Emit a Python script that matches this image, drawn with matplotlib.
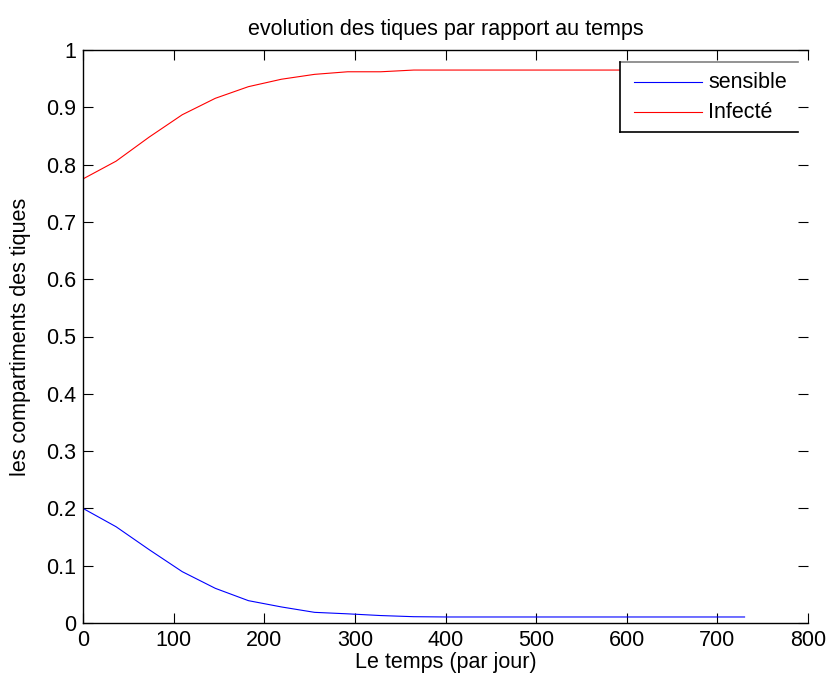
import matplotlib
matplotlib.use("Agg")
import matplotlib.pyplot as plt
from matplotlib.lines import Line2D
from matplotlib.patches import Rectangle

plt.rcParams['font.family'] = ['Liberation Sans', 'DejaVu Sans']

# Data (time in days)
t = [0, 36.5, 73, 109.5, 146, 182.5, 219, 255.5, 292, 328.5, 365, 401.5,
     438, 474.5, 511, 547.5, 584, 620.5, 657, 693.5, 730]
sensible = [0.200, 0.168, 0.128, 0.0896, 0.0605, 0.039, 0.028, 0.0186, 0.016,
            0.013, 0.011, 0.0105, 0.0105, 0.0105, 0.0105, 0.0105, 0.0105,
            0.0105, 0.0105, 0.0105, 0.0105]
infecte = [0.775, 0.806, 0.848, 0.887, 0.9157, 0.936, 0.949, 0.9575, 0.962,
           0.962, 0.965, 0.965, 0.965, 0.965, 0.965, 0.965, 0.965, 0.965,
           0.965, 0.965, 0.965]
xticks = [0, 100, 200, 300, 400, 500, 600, 700, 800]
yticks = [0, 0.1, 0.2, 0.3, 0.4, 0.5, 0.6, 0.7, 0.8, 0.9, 1]
ytick_labels = ['0', '0.1', '0.2', '0.3', '0.4', '0.5', '0.6', '0.7', '0.8', '0.9', '1']

W, H = 832, 684
fig = plt.figure(figsize=(W / 100, H / 100), dpi=100)
ax = fig.add_axes([83 / W, 1 - 623 / H, (808 - 83) / W, (623 - 50) / H])

ax.plot(t, sensible, color='blue', lw=0.8)
ax.plot(t, infecte, color='red', lw=0.8)

ax.set_xlim(0, 800)
ax.set_ylim(0, 1)
ax.set_xticks(xticks)
ax.set_yticks(yticks)
ax.set_yticklabels(ytick_labels)
fs = 15.5
ax.tick_params(direction='in', length=7, width=0.8, top=True, right=True,
               labelsize=fs, pad=5, color='black')
ax.spines['right'].set_visible(False)
for s in ['left', 'bottom', 'top']:
    ax.spines[s].set_linewidth(1.0)

ax.set_title('evolution des tiques par rapport au temps', fontsize=fs, pad=11)
ax.set_xlabel('Le temps (par jour)', fontsize=fs, labelpad=1)
ax.set_ylabel('les compartiments des tiques', fontsize=fs, labelpad=11)

# Legend box (right edge clipped off in the reference)
lx0, lx1, ly0, ly1 = 620, 798, 62, 132
fx = lambda px: px / W
fy = lambda py: 1 - py / H
fig.add_artist(Rectangle((fx(lx0), fy(ly1)), fx(lx1) - fx(lx0), fy(ly0) - fy(ly1),
                         transform=fig.transFigure, facecolor='white',
                         edgecolor='none', zorder=3))
fig.add_artist(Line2D([fx(lx0), fx(lx1)], [fy(ly0), fy(ly0)], transform=fig.transFigure,
                      color='#808080', lw=1.2, zorder=4))
fig.add_artist(Line2D([fx(lx0), fx(lx0)], [fy(ly0), fy(ly1)], transform=fig.transFigure,
                      color='black', lw=1.2, zorder=4))
fig.add_artist(Line2D([fx(lx0), fx(lx1)], [fy(ly1), fy(ly1)], transform=fig.transFigure,
                      color='black', lw=1.2, zorder=4))
labels = ['sensible', 'Infecté']
colors = ['blue', 'red']
rows = [82, 112]
for lab, c, r in zip(labels, colors, rows):
    fig.add_artist(Line2D([fx(634), fx(702)], [fy(r), fy(r)], transform=fig.transFigure,
                          color=c, lw=0.8, zorder=5))
    fig.text(fx(708), fy(r), lab, fontsize=fs, va='center', ha='left', zorder=5)

fig.savefig('out.png', dpi=100)
